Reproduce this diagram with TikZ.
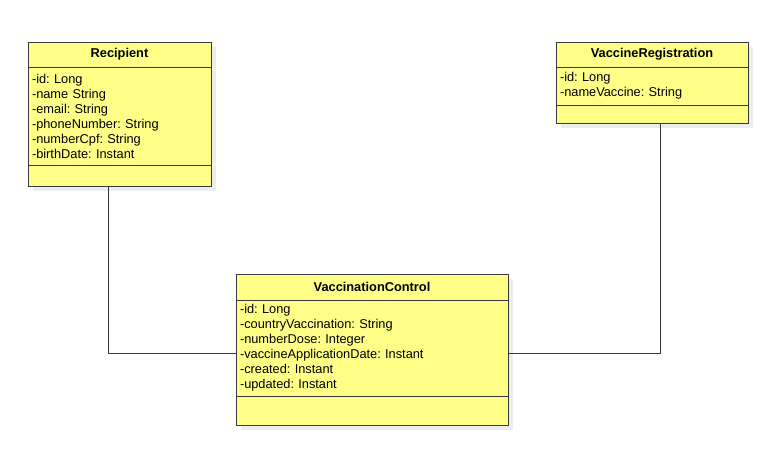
\documentclass[tikz,border=0pt]{standalone}
\usepackage{fontspec}
\setmainfont{Liberation Sans}
\usetikzlibrary{shadows}
\definecolor{umlfill}{HTML}{FFFF88}
\definecolor{umlline}{HTML}{36393D}

\begin{document}
\frenchspacing
\begin{tikzpicture}[x=1pt, y=-1pt, font=\fontsize{12.8}{15}\selectfont,
    part/.style={rectangle, draw=umlline, fill=umlfill, line width=0.9pt,
                 anchor=north west, inner sep=0pt, outer sep=0pt,
                 drop shadow={fill=black!7, opacity=1,
                              shadow xshift=5pt, shadow yshift=-5pt}},
    classhead/.style={part, font=\bfseries\fontsize{12.8}{15}\selectfont},
    classattr/.style={part, align=left, inner xsep=4pt},
    classops/.style={part},
    link/.style={draw=umlline, line width=0.9pt}]
    \useasboundingbox (0,0) rectangle (776,460);

    % Recipient
    \node[classhead, minimum width=183pt, minimum height=25pt] (recipient) at (28,42) {Recipient};
    \node[classattr, text width=175pt, minimum height=98pt] (recipientAttr) at (recipient.south west)
          {-id: Long\\-name String\\-email: String\\-phoneNumber: String\\-numberCpf: String\\-birthDate: Instant};
    \node[classops, minimum width=183pt, minimum height=21pt] (recipientOps) at (recipientAttr.south west) {};

    % VaccineRegistration
    \node[classhead, minimum width=192pt, minimum height=25pt] (registration) at (556,42) {VaccineRegistration};
    \node[classattr, text width=184pt, minimum height=38pt] (registrationAttr) at (registration.south west)
          {-id: Long\\-nameVaccine: String};
    \node[classops, minimum width=192pt, minimum height=18pt] (registrationOps) at (registrationAttr.south west) {};

    % VaccinationControl
    \node[classhead, minimum width=272pt, minimum height=26pt] (control) at (236,274) {VaccinationControl};
    \node[classattr, text width=264pt, minimum height=96pt] (controlAttr) at (control.south west)
          {-id: Long\\-countryVaccination: String\\-numberDose: Integer\\-vaccineApplicationDate: Instant\\-created: Instant\\-updated: Instant};
    \node[classops, minimum width=272pt, minimum height=29pt] (controlOps) at (controlAttr.south west) {};

    % associations
    \draw[link] ([xshift=-11.5pt]recipientOps.south) |- ([yshift=-5pt]controlAttr.west);
    \draw[link] ([xshift=8pt]registrationOps.south) |- ([yshift=-5pt]controlAttr.east);
\end{tikzpicture}
\end{document}
